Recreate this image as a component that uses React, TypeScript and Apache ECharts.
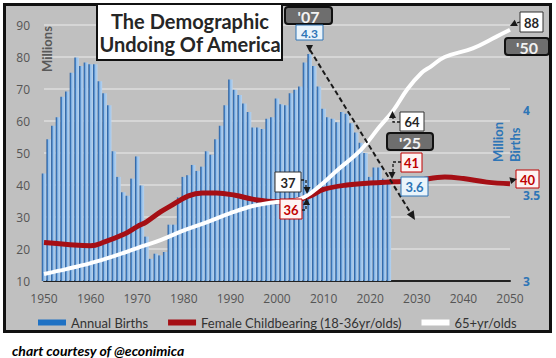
import React, { useEffect, useRef } from "react";
import * as echarts from "echarts";

// ---------- data ----------
const birthStartYear = 1950;
// Annual births, millions (right axis)
const births = [
  3.63, 3.83, 3.91, 3.96, 4.08, 4.11, 4.22, 4.31, 4.26, 4.28,
  4.27, 4.27, 4.17, 4.1, 4.03, 3.76, 3.61, 3.52, 3.5, 3.6,
  3.73, 3.56, 3.26, 3.13, 3.16, 3.15, 3.17, 3.33, 3.33, 3.49,
  3.61, 3.62, 3.68, 3.645, 3.67, 3.76, 3.74, 3.83, 3.91, 4.03,
  4.18, 4.12, 4.09, 4.04, 3.99, 3.9, 3.9, 3.89, 3.95, 3.96,
  4.07, 4.035, 4.03, 4.1, 4.12, 4.14, 4.28, 4.33, 4.26, 4.14,
  4.01, 3.96, 3.95, 3.93, 3.99, 3.98, 3.925, 3.87, 3.81, 3.75,
  3.61, 3.665, 3.665, 3.6, 3.59,
];
// Female childbearing population 18-36, millions (left axis)
const femaleYears = [1950, 1955, 1960, 1963, 1967, 1970, 1972, 1975, 1977, 1981, 1984, 1987, 1991, 1995, 2000, 2004, 2007, 2010, 2015, 2020, 2025, 2030, 2036, 2040, 2045, 2050];
const femaleValues = [22, 21.4, 21, 22.2, 24.5, 27, 28.5, 31.6, 33.3, 36.6, 37.5, 37.5, 36.8, 35.5, 34.8, 35.2, 36.5, 38.6, 40, 40.6, 41, 41.4, 42.5, 42, 40.9, 40.4];
// 65+ population, millions (left axis)
const seniorYears = [1950, 1955, 1960, 1965, 1970, 1975, 1980, 1985, 1990, 1995, 2000, 2003, 2006, 2009, 2013, 2018, 2022, 2025, 2028, 2031, 2033, 2036, 2042, 2047, 2050];
const seniorValues = [12.2, 13.8, 15.6, 17.8, 20.3, 22.8, 25.8, 28.4, 31.2, 33.5, 34.7, 34.9, 36.3, 39.5, 44.7, 51, 58.2, 63.4, 70, 75, 77, 80, 82.7, 86.3, 88.5];

const xMin = 1950;
const xMax = 2050;
const leftMin = 10;
const leftMax = 90;
const rightMin = 3;
const rightMax = 4.5;

const FONT = "Lato";
const TICK_FONT = "Open Sans";
const BLUE = "#2e75b6";
const RED = "#c00000";

function arrowHead(tip: number[], from: number[], len = 7, half = 3.5) {
  const dx = tip[0] - from[0];
  const dy = tip[1] - from[1];
  const d = Math.sqrt(dx * dx + dy * dy) || 1;
  const ux = dx / d;
  const uy = dy / d;
  const bx = tip[0] - ux * len;
  const by = tip[1] - uy * len;
  return [
    [tip[0], tip[1]],
    [bx - uy * half, by + ux * half],
    [bx + uy * half, by - ux * half],
  ];
}

function box(x: number, y: number, w: number, h: number, text: string, fill: string, stroke: string, color: string, size = 12, lw = 1, r = 0) {
  return [
    { type: "rect", z: 100, shape: { x, y, width: w, height: h, r }, style: { fill, stroke, lineWidth: lw } },
    {
      type: "text", z: 101, x: x + w / 2, y: y + h / 2 + 0.5,
      style: { text, fill: color, fontSize: size, fontWeight: "bold", fontFamily: FONT, align: "center", verticalAlign: "middle" },
    },
  ];
}

function darkBox(x: number, y: number, w: number, h: number, text: string) {
  return box(x, y, w, h, text, "#6e6e6e", "#111", "#f2f2f2", 16, 2, 3);
}

function dashLine(points: number[][], lw = 1.3, dash = [3, 2]) {
  return { type: "polyline", z: 100, shape: { points }, style: { stroke: "#1a1a1a", lineWidth: lw, lineDash: dash, fill: null } };
}

function tri(tip: number[], from: number[], len = 7, half = 3.5) {
  return { type: "polygon", z: 100, shape: { points: arrowHead(tip, from, len, half) }, style: { fill: "#1a1a1a" } };
}

export default function App() {
  const ref = useRef<HTMLDivElement>(null);

  useEffect(() => {
    if (!ref.current) return;
    const chart = echarts.init(ref.current, undefined, { renderer: "svg", width: 556, height: 358 });

    const barData = births.map((v, i) => [birthStartYear + i, v]);
    const femaleData = femaleYears.map((y, i) => [y, femaleValues[i]]);
    const seniorData = seniorYears.map((y, i) => [y, seniorValues[i]]);

    const mainFrom = [310, 50];
    const mainTo = [415, 220];

    const graphic: any[] = [
      // title
      { type: "rect", z: 100, shape: { x: 97, y: 4, width: 185, height: 56 }, style: { fill: "#fff", stroke: "#111", lineWidth: 2 } },
      { type: "text", z: 101, x: 190, y: 21, style: { text: "The Demographic", fill: "#262626", fontSize: 20, fontWeight: "bold", fontFamily: FONT, align: "center", verticalAlign: "middle" } },
      { type: "text", z: 101, x: 190, y: 44, style: { text: "Undoing Of America", fill: "#262626", fontSize: 20, fontWeight: "bold", fontFamily: FONT, align: "center", verticalAlign: "middle" } },
      // axis titles
      { type: "text", z: 101, x: 47, y: 49, rotation: Math.PI / 2, style: { text: "Millions", fill: "#595959", fontSize: 13, fontWeight: "bold", fontFamily: FONT, align: "center", verticalAlign: "middle" } },
      { type: "text", z: 101, x: 498, y: 162, rotation: Math.PI / 2, style: { text: "Million", fill: BLUE, fontSize: 13, fontWeight: "bold", fontFamily: FONT, align: "left", verticalAlign: "middle" } },
      { type: "text", z: 101, x: 515, y: 162, rotation: Math.PI / 2, style: { text: "Births", fill: BLUE, fontSize: 13, fontWeight: "bold", fontFamily: FONT, align: "left", verticalAlign: "middle" } },
      // '07 and 4.3
      ...darkBox(285, 7, 47, 17, "'07"),
      ...box(296, 25, 27, 15, "4.3", "#eaf4fb", BLUE, BLUE, 12),
      dashLine([mainFrom, arrowHead(mainTo, mainFrom, 8, 4)[0]], 2, [5, 3]),
      tri(mainTo, mainFrom, 9, 4),
      tri([309.5, 52], [309.5, 42], 7, 3.5),
      // '50 and 88
      ...darkBox(505, 38, 44, 17, "'50"),
      ...box(520, 12, 23, 20, "88", "#fff", "#333", "#262626", 13),
      dashLine([[520, 22], [514, 24]]),
      tri([510, 26], [518, 22], 7, 3.5),
      // 40 at end of red line
      ...box(516, 170, 23, 18, "40", "#fdf3f3", RED, RED, 13),
      tri([517, 179], [509, 181], 7, 3.5),
      // '25, 64, 41, 3.6
      ...box(400, 112, 24, 19, "64", "#fff", "#333", "#262626", 13),
      dashLine([[400, 122], [393, 122], [393, 117]]),
      tri([392.5, 111], [392.5, 120], 7, 3.5),
      ...darkBox(387, 133, 46, 17, "'25"),
      ...box(401, 153, 21, 19, "41", "#fdf3f3", RED, RED, 13),
      dashLine([[401, 162], [393, 162], [393, 172]]),
      tri([392, 179], [392, 170], 7, 3.5),
      ...box(401, 177, 27, 19, "3.6", "#eaf4fb", BLUE, BLUE, 13),
      // 37 and 36
      ...box(275, 172, 26, 20, "37", "#fff", "#333", "#262626", 13),
      dashLine([[301, 180], [306, 180], [306, 187]]),
      tri([307, 194], [307, 185], 7, 3.5),
      ...box(280, 199, 22, 20, "36", "#fdf3f3", RED, RED, 13),
      dashLine([[302, 210], [306, 210], [306, 205]]),
      tri([306.5, 198], [306.5, 207], 7, 3.5),
      // caption
      { type: "text", z: 101, x: 12, y: 350, style: { text: "chart courtesy of @econimica", fill: "#000", fontSize: 14, fontWeight: "bold", fontStyle: "italic", fontFamily: FONT, align: "left", verticalAlign: "middle" } },
    ];

    chart.setOption({
      animation: false,
      backgroundColor: "transparent",
      grid: { left: 44, right: 46, top: 25, bottom: 77 },
      legend: {
        left: 33,
        top: 311,
        itemWidth: 28,
        itemHeight: 6,
        itemGap: 20,
        icon: "rect",
        textStyle: { fontFamily: FONT, fontSize: 13, color: "#333" },
        data: [
          { name: "Annual Births", itemStyle: { color: "#2072c4" } },
          { name: "Female Childbearing (18-36yr/olds)", itemStyle: { color: "#a50f15" } },
          { name: "65+yr/olds", itemStyle: { color: "#ffffff" } },
        ],
      },
      xAxis: {
        type: "value",
        min: xMin,
        max: xMax,
        interval: 10,
        axisLine: { show: true, onZero: false, lineStyle: { color: "#222", width: 2 } },
        axisTick: { show: false },
        splitLine: { show: false },
        axisLabel: { color: "#555", fontFamily: TICK_FONT, fontSize: 12, margin: 11, formatter: (v: number) => String(v) },
      },
      yAxis: [
        {
          type: "value",
          min: leftMin,
          max: leftMax,
          interval: 10,
          axisLine: { show: false },
          axisTick: { show: false },
          splitLine: { show: true, lineStyle: { color: "#dedede", width: 1.5 } },
          axisLabel: { color: "#555", fontFamily: TICK_FONT, fontSize: 12, margin: 14 },
        },
        {
          type: "value",
          position: "right",
          min: rightMin,
          max: rightMax,
          interval: 0.5,
          axisLine: { show: false },
          axisTick: { show: false },
          splitLine: { show: false },
          axisLabel: {
            color: BLUE,
            fontFamily: TICK_FONT,
            fontSize: 12,
            fontWeight: "bold",
            margin: 13,
            formatter: (v: number) => (v >= rightMax ? "" : String(v)),
          },
        },
      ],
      series: [
        {
          name: "Annual Births",
          type: "bar",
          yAxisIndex: 1,
          barWidth: 4.5,
          clip: true,
          data: barData,
          itemStyle: {
            color: new echarts.graphic.LinearGradient(0, 0, 1, 0, [
              { offset: 0, color: "#2a5a96" },
              { offset: 0.25, color: "#3f7cc0" },
              { offset: 0.45, color: "#92bde8" },
              { offset: 1, color: "#b6d3f1" },
            ]),
          },
          z: 2,
        },
        {
          name: "Female Childbearing (18-36yr/olds)",
          type: "line",
          yAxisIndex: 0,
          data: femaleData,
          smooth: 0.4,
          showSymbol: false,
          lineStyle: { color: "#a50f15", width: 5 },
          itemStyle: { color: "#a50f15" },
          z: 4,
        },
        {
          name: "65+yr/olds",
          type: "line",
          yAxisIndex: 0,
          data: seniorData,
          smooth: 0.4,
          showSymbol: false,
          lineStyle: { color: "#ffffff", width: 4 },
          itemStyle: { color: "#ffffff" },
          z: 5,
        },
      ],
      graphic,
    });

    return () => chart.dispose();
  }, []);

  return (
    <div style={{ position: "fixed", left: 0, top: 0, width: 556, height: 358, background: "#fff" }}>
      <div
        style={{
          position: "absolute",
          left: 3,
          top: 3,
          width: 549,
          height: 330,
          boxSizing: "border-box",
          border: "3px solid #111",
          background: "#c0c0c0",
        }}
      />
      <div ref={ref} style={{ position: "absolute", left: 0, top: 0, width: 556, height: 358 }} />
    </div>
  );
}
